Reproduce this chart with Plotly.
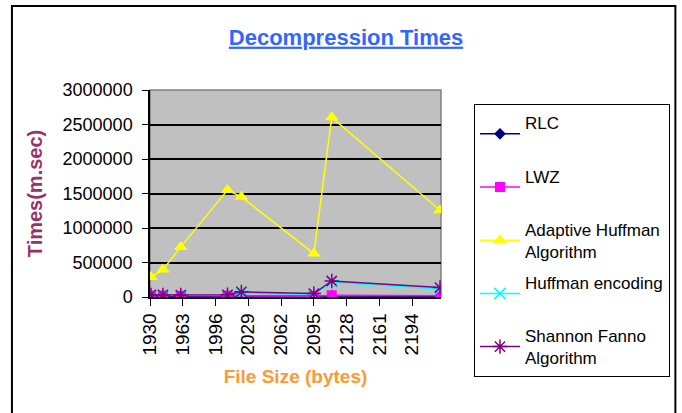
import plotly.graph_objects as go

# ---- data ----
file_sizes = [1931, 1943, 1961, 2008, 2022, 2095, 2113, 2222]
rlc = [8000, 6000, 7000, 9000, 12000, 10000, 15000, 12000]
lwz = [20000, 20000, 18000, 20000, 15000, 12000, 25000, 18000]
adaptive_huffman = [290000, 397000, 726000, 1549000, 1452000, 629000, 2604000, 1258000]
huffman_encoding = [25000, 25000, 22000, 28000, 55000, 40000, 215000, 115000]
shannon_fanno = [30000, 30000, 28000, 32000, 75000, 50000, 232000, 137000]

# every legend entry uses two text lines so the entries are evenly spaced
series_names = ["RLC<br> ", "LWZ<br> ", "Adaptive Huffman<br>Algorithm",
                "Huffman encoding<br> ", "Shannon Fanno<br>Algorithm"]
x_tick_vals = [1930, 1963, 1996, 2029, 2062, 2095, 2128, 2161, 2194]
y_tick_vals = [0, 500000, 1000000, 1500000, 2000000, 2500000, 3000000]

FONT = "Liberation Sans, Arial, sans-serif"

styles = [
    dict(color="#000080", symbol="diamond", size=9, line=dict(width=0)),
    dict(color="#FF00FF", symbol="square", size=10, line=dict(width=0)),
    dict(color="#FFFF00", symbol="triangle-up", size=12, line=dict(width=0)),
    dict(color="#00FFFF", symbol="x-thin-open", size=11, line=dict(width=1.5, color="#00FFFF")),
    dict(color="#800080", symbol="asterisk-open", size=12, line=dict(width=1.5, color="#800080")),
]
series = [rlc, lwz, adaptive_huffman, huffman_encoding, shannon_fanno]

fig = go.Figure()
for i, (name, ys, st) in enumerate(zip(series_names, series, styles)):
    fig.add_trace(go.Scatter(
        x=file_sizes, y=ys, name=name, mode="lines+markers",
        line=dict(color=st["color"], width=1.5),
        marker=st, legendgroup=f"g{i}",
    ))

L, T, PW, PH = 150, 90, 293, 207
fig.update_layout(
    width=682, height=413,
    margin=dict(l=L, r=682 - L - PW, t=T, b=413 - T - PH),
    paper_bgcolor="white", plot_bgcolor="#C0C0C0",
    font=dict(family=FONT, size=17, color="black"),
    title=dict(text="Decompression Times", x=346 / 682, xref="container", xanchor="center",
               y=1 - 37 / 413, yref="container", yanchor="middle",
               font=dict(family=FONT, size=22, color="#3366FF", weight="bold",
                         lineposition="under")),
    xaxis=dict(range=[1930, 2223], tickmode="array", tickvals=x_tick_vals,
               ticks="outside", ticklen=7, tickcolor="black", tickangle=-90,
               ticklabelstandoff=0,
               tickfont=dict(size=19), showgrid=False, zeroline=False,
               showline=True, linecolor="black", linewidth=1.5,
               title=dict(text="File Size (bytes)", standoff=15,
                          font=dict(size=19, color="#FF9933", weight="bold"))),
    yaxis=dict(range=[0, 3000000], tickmode="array", tickvals=y_tick_vals,
               tickformat="d", ticks="outside", ticklen=6, tickcolor="black",
               ticklabelstandoff=6,
               tickfont=dict(size=18), showgrid=True, gridcolor="black", gridwidth=1.5,
               zeroline=False, showline=True, linecolor="black", linewidth=1.5,
               title=dict(text="Times(m.sec)", standoff=15,
                          font=dict(size=20, color="#993366", weight="bold"))),
    legend=dict(x=(476 - L) / PW, y=(T + PH - 104) / PH, xanchor="left", yanchor="top",
                bgcolor="white", bordercolor="black", borderwidth=1.2,
                font=dict(size=17), tracegroupgap=6, itemwidth=40,
                traceorder="grouped", maxheight=400),
    shapes=[
        dict(type="rect", xref="paper", yref="paper", x0=0, x1=1, y0=0, y1=1,
             line=dict(color="#808080", width=1.5), layer="between"),
        dict(type="rect", xref="paper", yref="paper",
             x0=(11 - L) / PW, x1=(679 - L) / PW,
             y0=(T + PH - 430) / PH, y1=(T + PH - 6) / PH,
             line=dict(color="black", width=2)),
    ],
)

fig.write_html(
    "out.html",
    config={"displayModeBar": False},
    post_script="document.body.style.margin='0';document.body.style.overflow='hidden';",
)
